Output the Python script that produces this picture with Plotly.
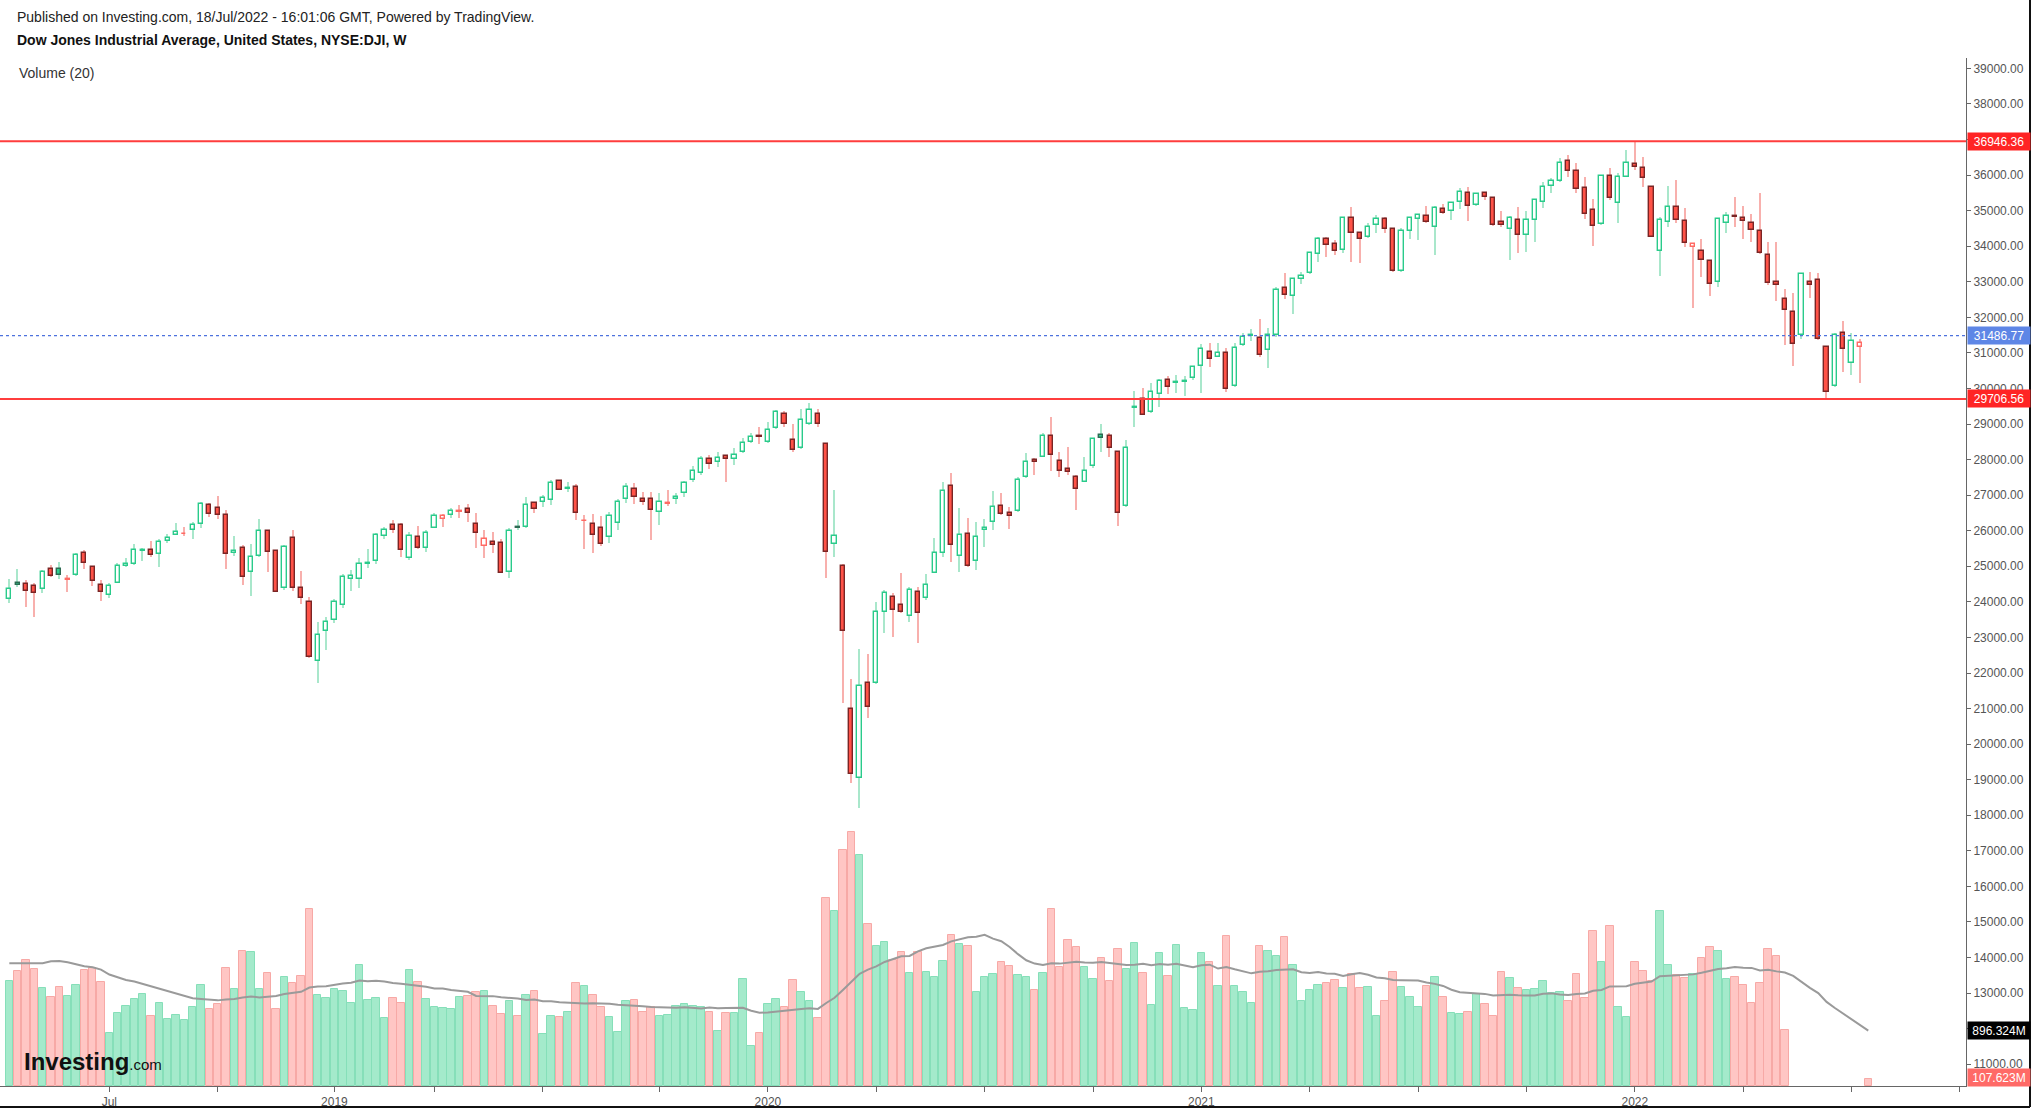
import pandas as pd
import plotly.graph_objects as go

# ---------------- data (weekly, Monday dated) ----------------
start_week = "2018-04-09"
prior_close = 23933

opens = [
24070, 24520, 24500, 24446, 24352, 24914, 24924, 24620, 24755, 25364,
24990, 24483, 24183, 24540, 25010, 25065, 25440, 25458, 25345, 25720,
25890, 25900, 26020, 26189, 26733, 26629, 26442, 25364, 25524, 24849,
25289, 25992, 25430, 24380, 25805, 24380, 24005, 22347, 23171, 23490,
23911, 24633, 24633, 25064, 25158, 25861, 26151, 26151, 25223, 25832,
25504, 26086, 26339, 26432, 26530, 26601, 26189, 25570, 25682, 25645,
24848, 26114, 26114, 26770, 26817, 26863, 27397, 27170, 27238, 26260,
26189, 26067, 25832, 26207, 26882, 27163, 26882, 26882, 26535, 26755,
26882, 27070, 27426, 27613, 28016, 27932, 28110, 28016, 28213, 28494,
28672, 28485, 28878, 29281, 28550, 28335, 28999, 29281, 28438, 25617,
25017, 20979, 19057, 21728, 21710, 23724, 24127, 23912, 23612, 24286,
24099, 24821, 25364, 27267, 25289, 25908, 25158, 26011, 26236, 26695,
26489, 26554, 27501, 27988, 28082, 28663, 27960, 27735, 27520, 27379,
27820, 28682, 28663, 28222, 26704, 29440, 29703, 29337, 29844, 30237,
30143, 30190, 30284, 30640, 31034, 30893, 31006, 30069, 31212, 31470,
31409, 31080, 31502, 32814, 32598, 33067, 33236, 33779, 34191, 34060,
33892, 34801, 34379, 34248, 34594, 34763, 34473, 33301, 34435, 34772,
34847, 34529, 35044, 34988, 35232, 35485, 35166, 35485, 35363, 34679,
34473, 34735, 34313, 34735, 35231, 35700, 35831, 36403, 36122, 35644,
35016, 34622, 35972, 35222, 35953, 36309, 36187, 35672, 33860, 34688,
35110, 34707, 33967, 33873, 33592, 33001, 34641, 34847, 34800, 34641,
34425, 33751, 32983, 32505, 32158, 31502, 33001, 33048, 31155, 30068,
31567, 30705, 31174]

highs = [
24650, 24915, 24615, 24540, 24896, 25027, 25111, 24746, 25364, 25458,
25008, 24615, 24521, 25083, 25243, 25627, 25524, 25720, 25758, 25908,
26207, 26095, 26254, 26798, 26770, 26990, 26583, 25852, 25598, 25627,
26320, 26020, 25458, 25589, 26011, 24877, 24146, 23443, 23584, 24071,
24783, 24895, 25223, 25476, 25945, 26114, 26301, 26207, 25973, 26132,
26020, 26507, 26470, 26629, 26723, 26742, 26507, 26020, 25954, 25757,
26067, 26301, 26957, 26817, 27004, 27425, 27425, 27378, 27313, 26442,
26460, 26413, 26535, 26882, 27350, 27332, 27097, 27098, 27051, 27145,
27051, 27397, 27819, 28110, 28119, 28222, 28129, 28316, 28616, 28738,
28906, 29047, 29394, 29375, 28997, 29412, 29581, 29412, 28460, 27145,
25055, 21822, 22665, 22525, 24008, 24333, 24250, 24802, 24408, 24427,
24783, 25786, 27379, 27613, 26629, 26348, 26255, 26330, 27117, 27070,
26676, 27501, 28194, 28035, 28757, 29199, 28222, 28363, 27560, 28063,
28620, 28991, 28738, 28250, 28550, 29933, 30003, 30143, 30256, 30350,
30378, 30350, 30637, 31249, 31268, 31287, 31127, 31287, 31568, 31662,
31961, 31689, 32850, 33254, 33110, 33282, 33845, 34267, 34256, 34172,
34829, 35091, 34407, 34642, 34866, 34829, 34500, 34519, 34810, 34904,
35128, 35128, 35175, 35232, 35625, 35653, 35485, 35531, 35380, 34988,
34847, 35091, 34988, 35316, 35794, 35925, 36469, 36562, 36328, 35934,
35325, 36000, 36187, 36065, 36703, 36946, 36515, 35690, 34810, 35691,
35860, 35063, 34098, 34210, 33610, 34780, 34969, 35372, 35128, 34903,
35492, 34126, 34118, 32785, 32692, 33230, 33282, 33254, 31180, 31549,
31895, 31549, 31380]

lows = [
23980, 24427, 23865, 23584, 24240, 24690, 24652, 24286, 24727, 24933,
24446, 24034, 24118, 24521, 24990, 25046, 25158, 25270, 24989, 25664,
25870, 25851, 25776, 26067, 26395, 26320, 24924, 25289, 24474, 24174,
25252, 24840, 24270, 24334, 24315, 23940, 22431, 21712, 22638, 23396,
23818, 24314, 24380, 24942, 25064, 25767, 25926, 25270, 25176, 25476,
25411, 26067, 26095, 26348, 26367, 26235, 25504, 25222, 25383, 24802,
24680, 26020, 26067, 26507, 26676, 26723, 27144, 27079, 26301, 25476,
25383, 25570, 25664, 26020, 26770, 26751, 26723, 25743, 26160, 26700,
26742, 26957, 27379, 27566, 27726, 27782, 27379, 27848, 28175, 28457,
28429, 28457, 28850, 28906, 28204, 28288, 28972, 28925, 24681, 25270,
21154, 18917, 18214, 20735, 21700, 23134, 23003, 23677, 23443, 22853,
24052, 24802, 25270, 25130, 24843, 24990, 24896, 25551, 26020, 26440,
26039, 26536, 27473, 27567, 28063, 27688, 27520, 27567, 26582, 27360,
27754, 28222, 28063, 26143, 26680, 28925, 29253, 29319, 29487, 29844,
29881, 29787, 30237, 29881, 30612, 30874, 29909, 30050, 31193, 31343,
30893, 30565, 31455, 32505, 32083, 32936, 33217, 33564, 33686, 33751,
33798, 33564, 33517, 34220, 34379, 34360, 33271, 33280, 34192, 34173,
34660, 33741, 34904, 34735, 35054, 34716, 35128, 35297, 34566, 34529,
33613, 33798, 33845, 34126, 35063, 35503, 35812, 35934, 35485, 34763,
34004, 34594, 35297, 34660, 35934, 36140, 35672, 34250, 33150, 34529,
34641, 33985, 32272, 33123, 32598, 32861, 34360, 34548, 34191, 34126,
33780, 32910, 32467, 31228, 30635, 31389, 32533, 31370, 29690, 30049,
30471, 30377, 30143]

closes = [
24360, 24463, 24311, 24262, 24831, 24715, 24753, 24635, 25317, 25090,
24581, 24271, 24456, 25019, 25058, 25451, 25463, 25313, 25669, 25790,
25965, 25917, 26155, 26743, 26458, 26447, 25340, 25444, 24688, 25271,
25989, 25413, 24286, 25538, 24389, 24101, 22445, 23062, 23433, 23996,
24706, 24737, 25064, 25106, 25883, 26032, 26026, 25450, 25849, 25502,
25929, 26425, 26412, 26560, 26543, 26505, 25942, 25764, 25586, 24815,
25984, 26090, 26719, 26600, 26922, 27332, 27154, 27192, 26485, 26287,
25886, 25629, 26403, 26797, 27220, 26935, 26820, 26574, 26817, 26770,
26958, 27347, 27681, 28005, 27876, 28051, 28015, 28135, 28455, 28645,
28635, 28824, 29348, 28990, 28256, 29103, 29398, 28992, 25409, 25865,
23186, 19174, 21637, 21053, 23719, 24242, 23775, 23724, 24331, 23685,
24465, 25383, 27111, 25606, 25871, 25016, 25827, 26075, 26672, 26470,
26428, 27433, 27931, 27930, 28654, 28133, 27666, 27657, 27174, 27683,
28587, 28606, 28336, 26502, 28323, 29480, 29263, 29910, 30218, 30046,
30179, 30200, 30606, 31098, 30814, 30997, 29983, 31148, 31458, 31494,
30932, 31496, 32779, 32628, 33073, 33153, 33801, 34201, 34043, 33875,
34778, 34382, 34208, 34529, 34756, 34480, 33290, 34434, 34786, 34870,
34688, 35062, 34935, 35209, 35515, 35120, 35456, 35369, 34608, 34585,
34798, 34326, 34746, 35295, 35677, 35820, 36328, 36100, 35602, 34899,
34580, 35971, 35365, 35951, 36338, 36232, 35912, 34265, 34725, 35090,
34738, 34079, 34059, 33615, 32944, 34755, 34861, 34818, 34721, 34451,
33811, 32977, 32899, 32197, 31262, 33213, 32900, 31393, 29889, 31501,
31097, 31338, 31288]

# weekly volume in millions (0 = no bar shown); last entry = week of 18 Jul 2022
volumes_m = [
1697, 1858, 2030, 1885, 1579, 1439, 1600, 1455, 1632, 1869,
1901, 1670, 859, 1176, 1294, 1402, 1482, 1133, 1337, 1085,
1144, 1069, 1267, 1632, 1240, 1326, 1906, 1563, 2175, 2164,
1563, 1815, 1235, 1761, 1665, 1777, 2851, 1471, 1418, 1563,
1525, 1343, 1949, 1380, 1418, 1090, 1418, 1337, 1869, 1670,
1402, 1267, 1251, 1235, 1439, 1455, 1509, 1525, 1294, 1165,
1375, 1128, 1471, 1525, 838, 1128, 1106, 1192, 1659, 1616,
1471, 1273, 1106, 875, 1364, 1385, 1192, 1267, 1133, 1149,
1283, 1326, 1289, 1278, 1198, 891, 1171, 1181, 1729, 650,
859, 1326, 1402, 1278, 1708, 1509, 1369, 1090, 3034, 2825,
3807, 4097, 3727, 2610, 2250, 2325, 2030, 2153, 1815, 2164,
1842, 1761, 2019, 2433, 2288, 2250, 1509, 1751, 1799, 1992,
1939, 1794, 1761, 1547, 1815, 2851, 1922, 2352, 2234, 1912,
1724, 2062, 1686, 2207, 1885, 2304, 1815, 1305, 2137, 1772,
2266, 1257, 1230, 2137, 1998, 1616, 2411, 1616, 1509, 1337,
2250, 2175, 2100, 2395, 1955, 1375, 1541, 1627, 1654, 1702,
1579, 1804, 1579, 1590, 1122, 1369, 1831, 1595, 1428, 1273,
1611, 1756, 1434, 1176, 1165, 1192, 1482, 1321, 1122, 1831,
1740, 1579, 1547, 1557, 1686, 1498, 1509, 1375, 1799, 1418,
2497, 1998, 2578, 1267, 1106, 1992, 1847, 1697, 2825, 1955,
1794, 1740, 1804, 2062, 2234, 2180, 1724, 1761, 1632, 1332,
1654, 2212, 2089, 908, 0, 0, 0, 0, 0, 0,
0, 0, 0, 107.623]

# 20-week volume average for the first 19 visible weeks
ma_warmup_m = [1976, 1976, 1976, 1976, 1976, 2008, 2014, 1992, 1955, 1928,
               1912, 1874, 1794, 1751, 1708, 1681, 1643, 1606, 1563]

level_high = 36946.36
level_low = 29706.56
last_price = 31486.77
ma_last_label = "896.324M"
vol_last_label = "107.623M"

tick_dates = ["2018-07-02", "2018-10-01", "2019-01-07", "2019-04-01", "2019-07-01",
              "2019-10-07", "2020-01-06", "2020-04-06", "2020-07-06", "2020-10-05",
              "2021-01-04", "2021-04-05", "2021-07-05", "2021-10-04", "2022-01-03",
              "2022-04-04", "2022-07-04", "2022-10-03"]
tick_text = ["Jul", "", "2019", "", "", "", "2020", "", "", "", "2021", "", "", "",
             "2022", "", "", ""]

# ---------------- layout geometry ----------------
W, H = 2041, 1113
PL, PR, PT, PB = 0, 1966, 58, 1086
PW, PH = PR - PL, PB - PT
FONT = "Liberation Sans, Arial, sans-serif"

WEEK_MS = 7 * 24 * 3600 * 1000
PX_MS = WEEK_MS / 8.33          # one screen pixel in milliseconds on the x axis

weeks = pd.date_range(start_week, periods=len(volumes_m), freq="7D")
cdates = weeks[:len(closes)]

x0 = weeks[0] - pd.Timedelta(milliseconds=9.3 * PX_MS)
x1 = cdates[-1] + pd.Timedelta(milliseconds=(PR - 1860) * PX_MS)

P_TOP, P_BOT = 39290, 10389
V_TOP = PH * 16.1


def px(x):
    return (x - PL) / PW


def py(y):
    return (PB - y) / PH


# ---------------- derived styling ----------------
prevs = [prior_close] + closes[:-1]
up = [c >= p for c, p in zip(closes, prevs)]
hollow = [c >= o for o, c in zip(opens, closes)]

G_LINE = "#2acb8b"
body_fill, body_edge, wick_col = [], [], []
for u, h in zip(up, hollow):
    if h:
        body_fill.append("#ffffff")
        body_edge.append(G_LINE if u else "#ff6a64")
    else:
        body_fill.append("#2fcf8f" if u else "#ff5247")
        body_edge.append("#2d6b53" if u else "#7a2525")
    wick_col.append("#a9e7cb" if u else "#f8b0ad")

body_base = [min(o, c) for o, c in zip(opens, closes)]
body_h = [max(abs(c - o), 22) for o, c in zip(opens, closes)]
wick_h = [h - l for h, l in zip(highs, lows)]

vol_up = hollow + [False]
vol_fill = ["#a4eacb" if u else "#ffc6c4" for u in vol_up]
vol_edge = ["#86dfb9" if u else "#f7a9a6" for u in vol_up]
vol_bars = [v if v > 0 else None for v in volumes_m]

vol_s = pd.Series(volumes_m, dtype=float)
ma = vol_s.rolling(20).mean()
ma.iloc[:len(ma_warmup_m)] = ma_warmup_m

fig = go.Figure()

fig.add_trace(go.Bar(
    x=weeks, y=vol_bars, yaxis="y2", width=0.9 * WEEK_MS,
    marker=dict(color=vol_fill, line=dict(color=vol_edge, width=1)),
    hoverinfo="skip", showlegend=False))

fig.add_trace(go.Scatter(
    x=weeks, y=ma, yaxis="y2", mode="lines",
    line=dict(color="#9a9a9a", width=2), hoverinfo="skip", showlegend=False))

fig.add_trace(go.Bar(
    x=cdates, y=wick_h, base=lows, width=1.4 * PX_MS,
    marker=dict(color=wick_col, line=dict(width=0)),
    hoverinfo="skip", showlegend=False))

fig.add_trace(go.Bar(
    x=cdates, y=body_h, base=body_base, width=4.2 * PX_MS,
    marker=dict(color=body_fill, line=dict(color=body_edge, width=1.4)),
    hoverinfo="skip", showlegend=False))

shapes = [
    dict(type="line", xref="paper", yref="y", x0=0, x1=1, y0=level_high, y1=level_high,
         line=dict(color="#ff3d3d", width=2)),
    dict(type="line", xref="paper", yref="y", x0=0, x1=1, y0=level_low, y1=level_low,
         line=dict(color="#ff3d3d", width=2)),
    dict(type="line", xref="paper", yref="y", x0=0, x1=1, y0=last_price, y1=last_price,
         line=dict(color="#4d72dd", width=1.2, dash="dot")),
    # outer frame (right and bottom)
    dict(type="line", xref="paper", yref="paper", x0=px(2030), x1=px(2030), y0=py(1107), y1=py(0),
         line=dict(color="#111111", width=2)),
    dict(type="line", xref="paper", yref="paper", x0=px(0), x1=px(2030), y0=py(1107), y1=py(1107),
         line=dict(color="#111111", width=2)),
]


def tag(y, text, bg, yref="y"):
    return dict(x=1, xref="paper", y=y, yref=yref, text=text, showarrow=False,
                xanchor="left", yanchor="middle", xshift=1,
                font=dict(color="white", size=12, family=FONT),
                bgcolor=bg, borderpad=1, width=60, height=15, align="center")


annotations = [
    dict(x=px(15), y=py(17), xref="paper", yref="paper", xanchor="left", yanchor="middle",
         text="Published on Investing.com, 18/Jul/2022 - 16:01:06 GMT, Powered by TradingView.",
         showarrow=False, font=dict(size=14, color="#222222", family=FONT)),
    dict(x=px(15), y=py(40), xref="paper", yref="paper", xanchor="left", yanchor="middle",
         text="<b>Dow Jones Industrial Average, United States, NYSE:DJI, W</b>",
         showarrow=False, font=dict(size=14, color="#111111", family=FONT)),
    dict(x=px(17), y=py(73), xref="paper", yref="paper", xanchor="left", yanchor="middle",
         text="Volume (20)", showarrow=False, font=dict(size=14, color="#333333", family=FONT)),
    dict(x=px(22), y=py(1061), xref="paper", yref="paper", xanchor="left", yanchor="middle",
         text="<b>Investing</b><span style='font-size:15px'>.com</span>", showarrow=False,
         font=dict(size=24, color="#111111", family=FONT)),
    tag(level_high, f"{level_high:.2f}", "#ff2424"),
    tag(last_price, f"{last_price:.2f}", "#5e86e6"),
    tag(level_low, f"{level_low:.2f}", "#ff2424"),
    tag(float(ma.iloc[-1]), ma_last_label, "#000000", yref="y2"),
    tag(py(1077), vol_last_label, "#ff6a67", yref="paper"),
]

fig.update_layout(
    width=W, height=H, autosize=False,
    margin=dict(l=PL, r=W - PR, t=PT, b=H - PB, pad=0),
    paper_bgcolor="white", plot_bgcolor="white",
    barmode="overlay", bargap=0, showlegend=False,
    font=dict(family=FONT, size=12, color="#555555"),
    xaxis=dict(type="date", range=[x0, x1], showgrid=False, zeroline=False,
               tickmode="array", tickvals=tick_dates, ticktext=tick_text,
               ticks="outside", ticklen=5, tickcolor="#666666", tickwidth=1,
               showline=True, linecolor="#666666", linewidth=1,
               tickfont=dict(size=12, color="#555555", family=FONT)),
    yaxis=dict(range=[P_BOT, P_TOP], side="right", showgrid=False, zeroline=False,
               dtick=1000, tick0=0, tickformat=".2f",
               ticks="outside", ticklen=4, tickcolor="#666666",
               showline=True, linecolor="#666666", linewidth=1,
               tickfont=dict(size=12, color="#555555", family=FONT)),
    yaxis2=dict(range=[0, V_TOP], overlaying="y", side="right", visible=False),
    shapes=shapes, annotations=annotations,
)

fig.write_html("out.html")
